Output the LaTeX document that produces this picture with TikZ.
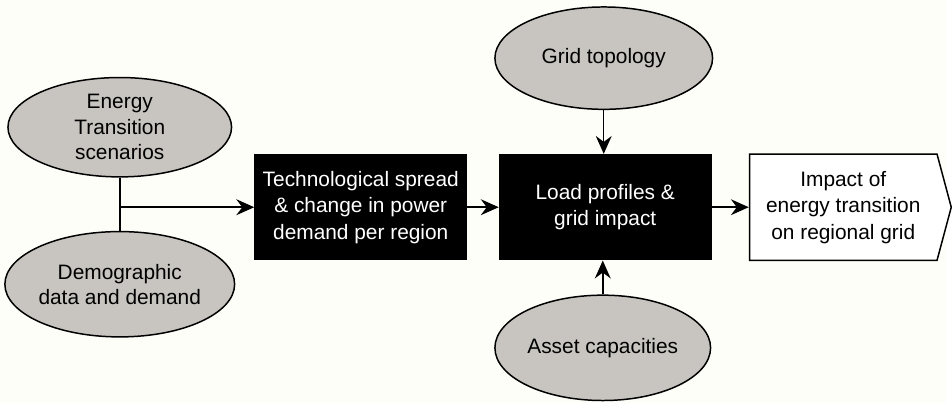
\documentclass[tikz,border=0pt]{standalone}
\usepackage{fontspec}
\setmainfont{Liberation Sans}
\usetikzlibrary{arrows.meta,shapes.geometric,shapes.symbols}
\definecolor{paper}{RGB}{254,254,248}
\definecolor{stonegrey}{RGB}{200,197,192}

\begin{document}
\begin{tikzpicture}[x=1pt,y=-1pt,
    font=\fontsize{21}{25.5}\selectfont,
    source/.style={ellipse,draw,line width=1.5pt,fill=stonegrey,align=center,inner sep=0pt},
    stage/.style={rectangle,fill=black,text=white,minimum width=214pt,minimum height=107pt,
                  align=center,inner sep=0pt,font=\fontsize{21}{26.7}\selectfont},
    flow/.style={line width=1.5pt,-{Stealth[length=18pt,width=16pt,inset=6pt]}}]
        % Background
        \fill[paper] (0,0) rectangle (952,405);

        % Inputs
        \node[source,minimum width=225pt,minimum height=100pt] (scen) at (120.5,128)
          {Energy\\Transition\\scenarios};
        \node[source,minimum width=225pt,minimum height=106pt] (demo) at (120.5,286)
          {Demographic\\data and demand};
        \node[source,minimum width=219pt,minimum height=103pt] (topo) at (607.5,58.5)
          {Grid topology};
        \node[source,minimum width=217pt,minimum height=106pt] (asset) at (606.5,350)
          {Asset capacities};

        % Model stages
        \node[stage] (spread) at (363,208.5)
          {Technological spread\\\& change in power\\demand per region};
        \node[stage] (load) at (609,208.5) {Load profiles \&\\grid impact};

        % Result
        \node[signal,signal to=east,draw,line width=1.5pt,fill=white,minimum width=203pt,
              minimum height=107pt,signal pointer angle=150,align=center,inner sep=0pt,
              font=\fontsize{21}{26.7}\selectfont]
          (impact) at (848.5,208.5) {Impact of\\energy transition\\on regional grid};

        % Connectors
        \draw[line width=1.5pt] (scen.south) -- (demo.north);
        \coordinate (join) at (scen.south |- spread.west);
        \draw[flow] (join) -- (spread.west);
        \draw[flow] (spread.east) -- (load.west);
        \draw[flow] (load.east) -- (impact.west);
        \draw[flow] (topo.south) -- (topo.south |- load.north);
        \draw[flow] (asset.north) -- (asset.north |- load.south);
\end{tikzpicture}
\end{document}
